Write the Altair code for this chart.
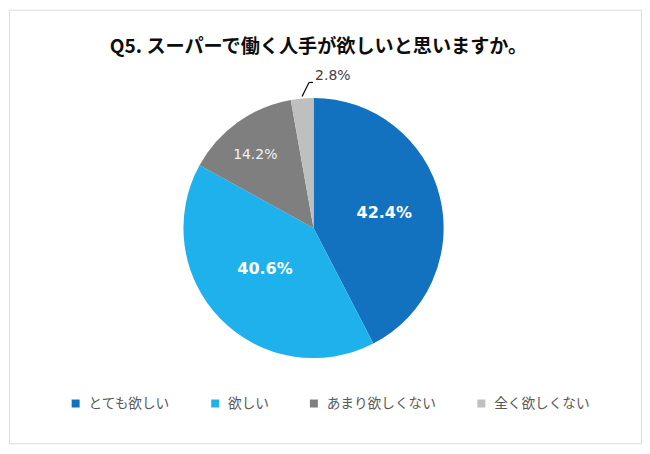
import altair as alt
import pandas as pd

# ---- data ----
title_text = "Q5. スーパーで働く人手が欲しいと思いますか。"
categories = ["とても欲しい", "欲しい", "あまり欲しくない", "全く欲しくない"]
values = [42.4, 40.6, 14.2, 2.8]
labels = ["42.4%", "40.6%", "14.2%", "2.8%"]
colors = ["#1372BF", "#1FB1EB", "#7F7F7F", "#BFBFBF"]

df = pd.DataFrame({
    "cat": categories,
    "value": values,
    "label": labels,
    "order": list(range(len(categories))),
})

W, H = 634, 435
CX, CY = 305.5, 219.0
R = 130.5
JP = "Noto Sans CJK JP"
NUM = "DejaVu Sans"

theta_scale = alt.Scale(domain=[0, 100])

pie = alt.Chart(df).mark_arc(outerRadius=R).encode(
    theta=alt.Theta("value:Q", stack=True, scale=theta_scale),
    order=alt.Order("order:Q"),
    color=alt.Color(
        "cat:N",
        scale=alt.Scale(domain=categories, range=colors),
        legend=alt.Legend(
            title=None,
            orient="none",
            direction="horizontal",
            legendX=60,
            legendY=388,
            symbolType="square",
            symbolSize=64,
            symbolStrokeWidth=0,
            labelFont=JP,
            labelFontSize=13.7,
            labelColor="#595959",
            labelOffset=6,
            columnPadding=38,
            padding=0,
        ),
    ),
    x=alt.value(CX),
    y=alt.value(CY),
)


def label_layer(cat, r, dx=0, dy=0, **style):
    return (
        alt.Chart(df)
        .transform_window(cum="sum(value)", sort=[{"field": "order"}])
        .transform_calculate(mid="datum.cum - datum.value / 2")
        .transform_filter(alt.datum.cat == cat)
        .mark_text(radius=r, dx=dx, dy=dy, baseline="middle", **style)
        .encode(
            theta=alt.Theta("mid:Q", stack=False, scale=theta_scale),
            text="label:N",
            x=alt.value(CX),
            y=alt.value(CY),
        )
    )


lab1 = label_layer(categories[0], 73, dx=0, dy=2, font=NUM, fontSize=16,
                   fontWeight="bold", color="white")
lab2 = label_layer(categories[1], 68, dx=0, dy=-6, font=NUM, fontSize=16,
                   fontWeight="bold", color="white")
lab3 = label_layer(categories[2], 90, dx=-6, dy=0, font=NUM, fontSize=14,
                   color="#F2F2F2")
lab4 = label_layer(categories[3], 153, dx=15, dy=0, font=NUM, fontSize=14,
                   color="#404040", align="left")

leader = alt.Chart(pd.DataFrame({"a": [0]})).mark_rule(
    color="#000000", strokeWidth=1.2
).encode(
    x=alt.value(294), x2=alt.value(301), y=alt.value(87), y2=alt.value(73)
)

leader2 = alt.Chart(pd.DataFrame({"a": [0]})).mark_rule(
    color="#000000", strokeWidth=1.2
).encode(
    x=alt.value(301), x2=alt.value(305), y=alt.value(73), y2=alt.value(73)
)

title = alt.Chart(pd.DataFrame({"t": [title_text]})).mark_text(
    font=JP, fontSize=19.2, fontWeight="bold", color="#0D0D0D",
    align="center", baseline="middle"
).encode(text="t:N", x=alt.value(310.5), y=alt.value(37))

chart = (
    alt.layer(pie, lab1, lab2, lab3, lab4, leader, leader2, title)
    .properties(
        width=W,
        height=H,
        autosize=alt.AutoSizeParams(type="none"),
        padding={"left": 1, "top": 1, "right": 1, "bottom": 1},
    )
    .configure_view(stroke="#BFBFBF", strokeWidth=1.5)
    .configure(background="white")
)

chart.save("out.html", embed_options={"renderer": "svg", "actions": False})
